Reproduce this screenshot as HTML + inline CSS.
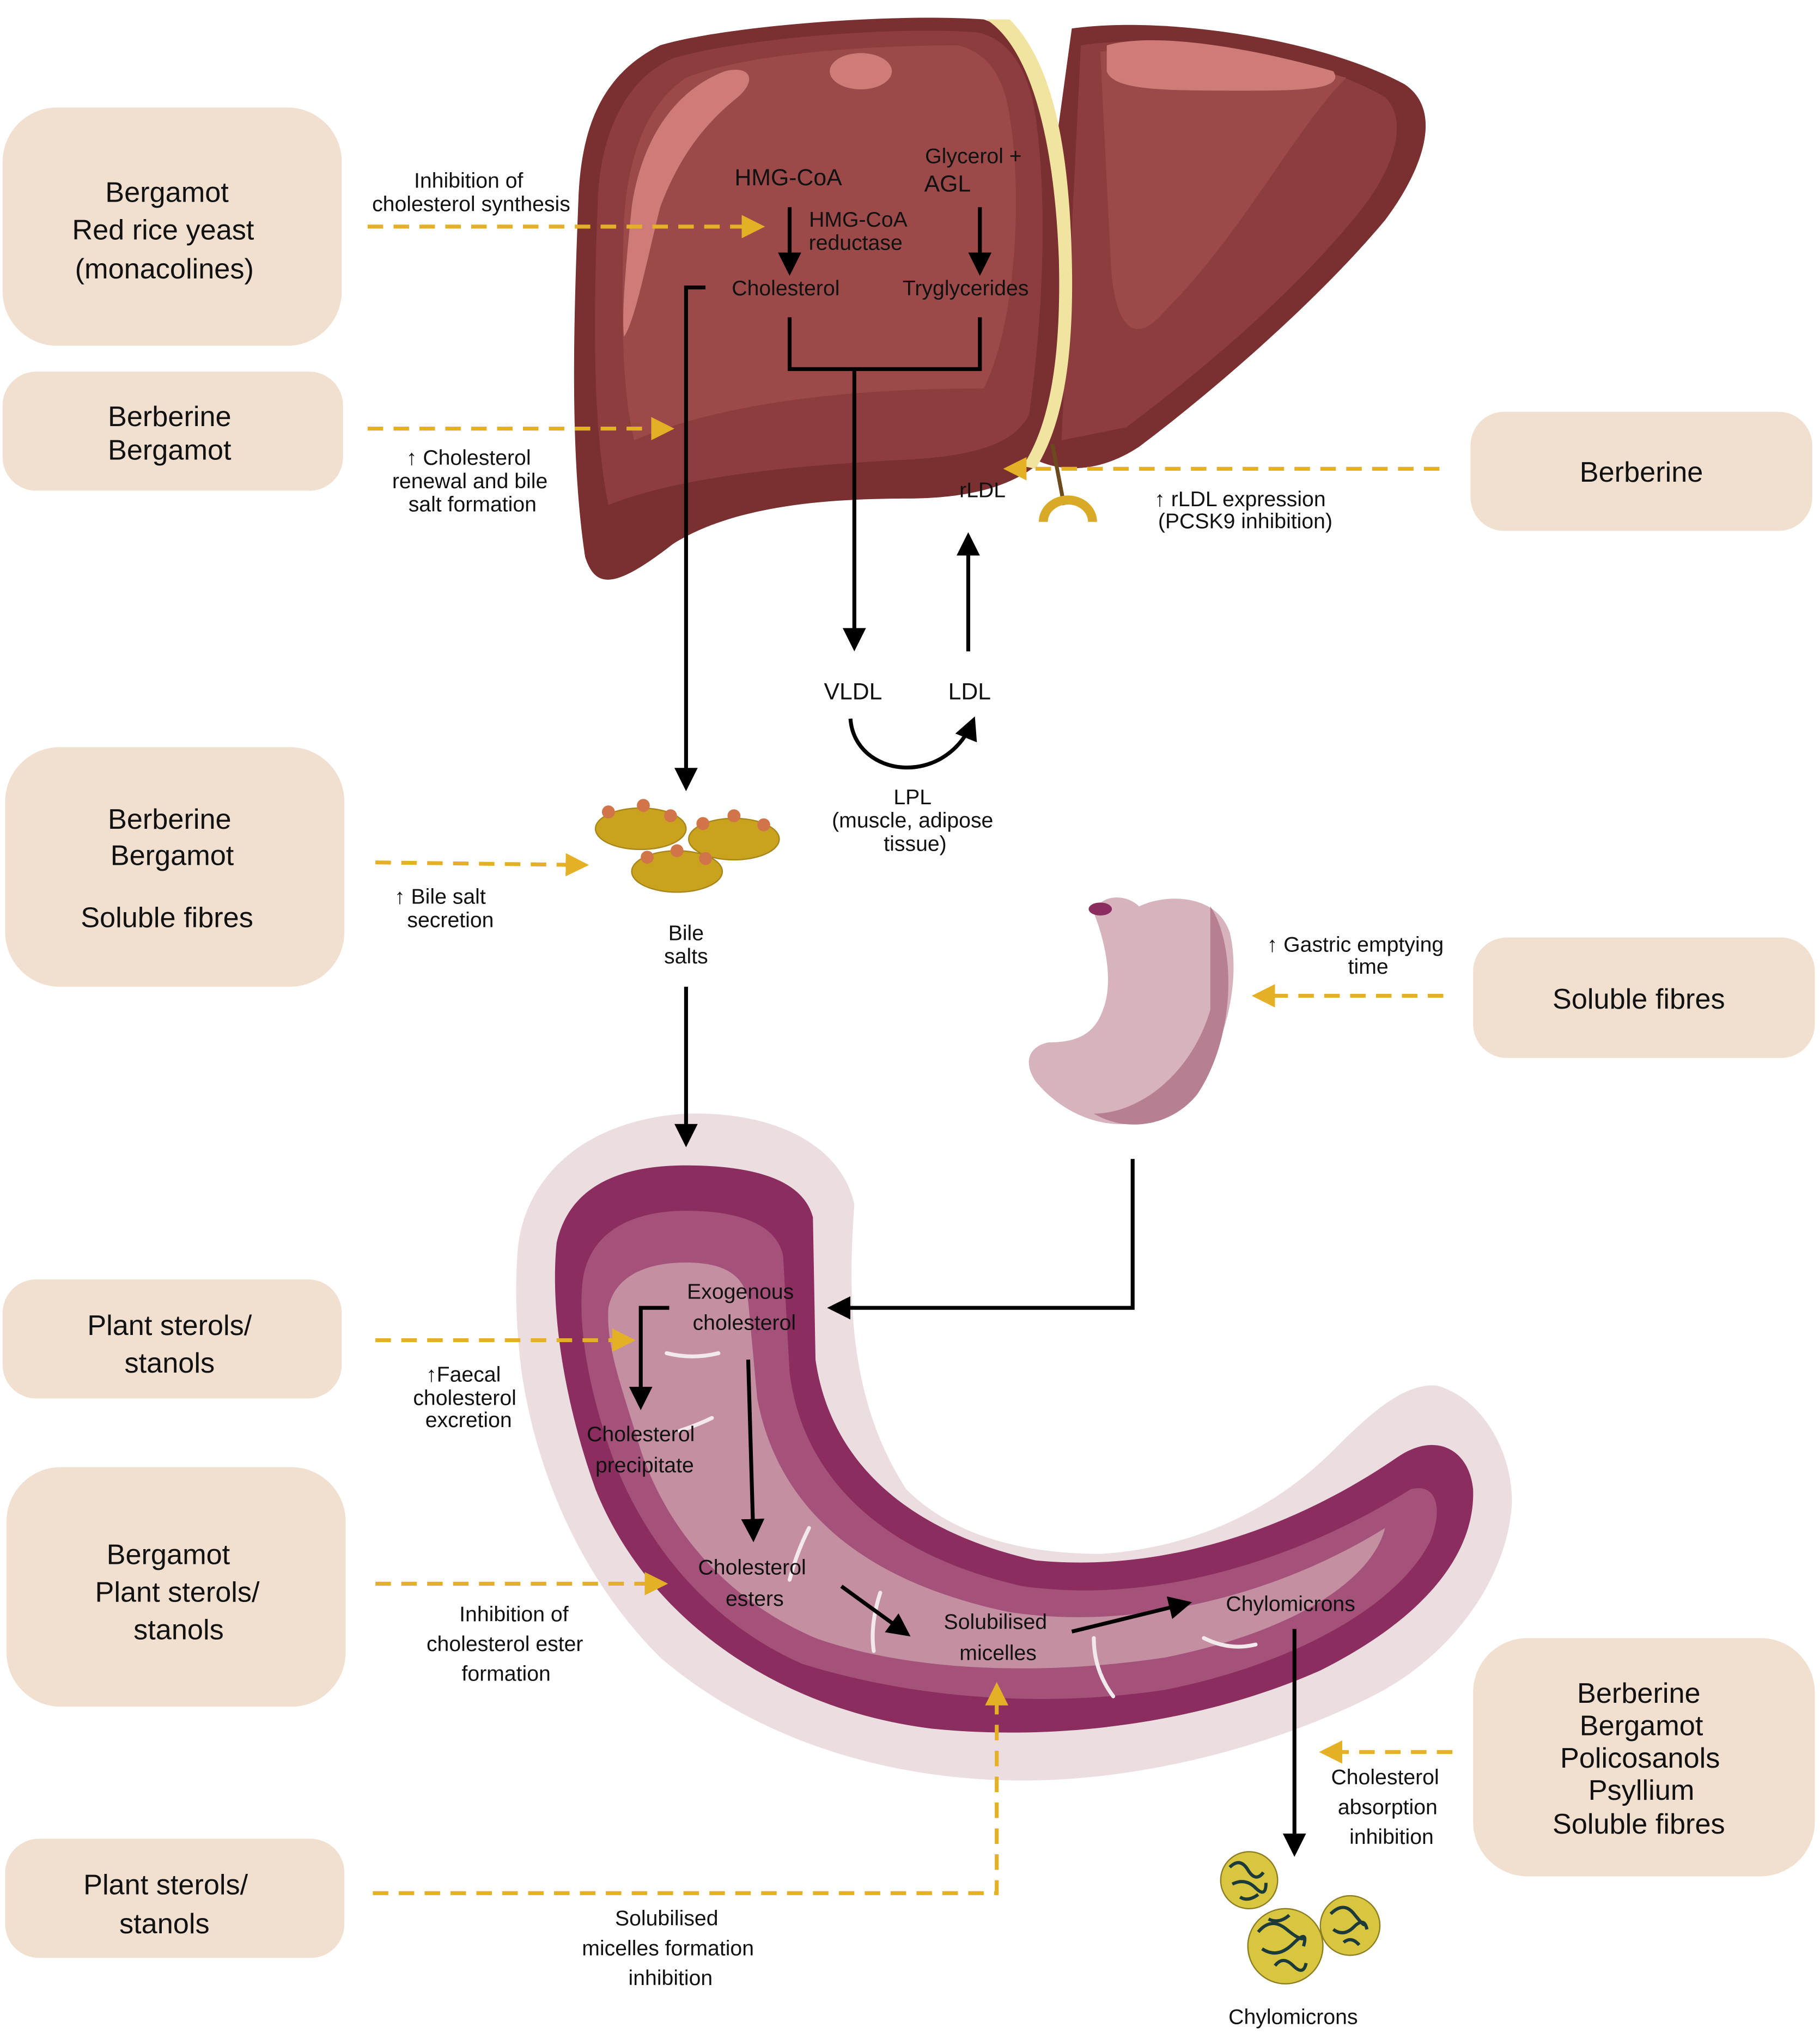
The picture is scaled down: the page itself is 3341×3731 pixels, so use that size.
<!DOCTYPE html>
<html><head><meta charset="utf-8"><style>
html,body{margin:0;padding:0;background:#fff;}
svg{display:block;}
text{font-family:"Liberation Sans",sans-serif;fill:#111;}
.b{font-size:22px;text-anchor:middle;}
.s{font-size:16.5px;text-anchor:middle;}
</style></head><body>
<svg width="3341" height="3731" viewBox="0 0 1406 1570" preserveAspectRatio="none" xmlns="http://www.w3.org/2000/svg">
<defs>
<marker id="ak" markerWidth="6" markerHeight="6" refX="5" refY="3" orient="auto" markerUnits="strokeWidth"><path d="M0,0 L6,3 L0,6 z" fill="#000"/></marker>
<marker id="ay" markerWidth="6" markerHeight="6" refX="5" refY="3" orient="auto" markerUnits="strokeWidth"><path d="M0,0 L6,3 L0,6 z" fill="#e4b126"/></marker>
</defs>
<!-- liver -->
<path d="M828,22 C900,12 1020,30 1085,65 C1115,85 1100,130 1070,170 C1020,230 940,300 880,345 C850,365 820,365 800,355 L790,300 Z" fill="#7a2f30"/>
<path d="M835,35 C900,25 1010,40 1070,75 C1090,95 1075,135 1045,170 C995,230 930,285 870,330 L820,340 Z" fill="#8e3d3e"/>
<path d="M850,40 C900,30 980,45 1040,60 C1000,100 960,180 900,240 C875,270 860,250 858,200 Z" fill="#9b4a49"/>
<path d="M855,35 C890,25 960,35 1030,55 C1040,70 1000,70 960,70 C900,70 860,70 855,55 Z" fill="#cf7b77"/>
<path d="M760,15 C690,10 560,20 510,35 C470,55 450,90 447,150 C443,250 440,350 452,430 C460,455 475,455 520,420 C560,395 620,385 700,385 C750,385 780,375 800,360 C815,300 825,200 810,100 C805,60 790,25 760,15 Z" fill="#7a2f30"/>
<path d="M755,25 C690,20 570,30 520,45 C485,60 465,100 462,150 C458,250 458,330 470,390 C520,370 600,360 700,355 C760,352 785,340 795,320 C805,250 810,160 800,90 C795,55 780,30 755,25 Z" fill="#8e3d3e"/>
<path d="M740,35 C680,35 580,40 530,60 C500,80 485,120 482,170 C480,240 480,300 490,340 C560,310 660,300 760,300 C785,250 790,150 780,90 C775,55 760,40 740,35 Z" fill="#9b4a49"/>
<path d="M560,55 C520,70 495,110 488,160 C484,200 480,240 482,260 C490,250 500,200 510,160 C525,120 545,95 570,75 C585,62 580,50 560,55 Z" fill="#cf7b77"/>
<ellipse cx="665" cy="55" rx="24" ry="14" fill="#cf7b77"/>
<path d="M762,15 C800,40 815,120 818,200 C820,280 810,330 790,360 L800,362 C820,330 830,280 828,200 C826,120 815,50 780,15 Z" fill="#f1e3a0"/>
<!-- receptor -->
<line x1="813" y1="343" x2="822" y2="390" stroke="#6b4a1e" stroke-width="3"/>
<path d="M806,403 A18,16 0 0 1 844,403" fill="none" stroke="#d9a928" stroke-width="7"/>
<!-- intestine -->
<path d="M400,965 C405,910 450,865 530,860 C600,858 650,885 660,930 C655,1000 655,1080 700,1150 C740,1190 800,1200 850,1200 C930,1195 990,1160 1030,1120 C1060,1090 1085,1068 1110,1070 C1145,1080 1168,1120 1168,1160 C1165,1220 1120,1280 1060,1310 C980,1350 880,1375 790,1375 C680,1375 580,1340 510,1280 C450,1220 415,1140 403,1060 C398,1020 398,990 400,965 Z" fill="#ecdde0"/>
<path d="M430,960 C440,915 480,900 530,900 C580,900 620,910 628,940 L630,1050 C640,1120 690,1180 800,1205 C900,1215 1000,1180 1080,1125 C1110,1105 1135,1120 1138,1150 C1140,1200 1100,1250 1020,1290 C930,1330 820,1345 720,1335 C600,1320 500,1250 460,1150 C435,1080 425,1010 430,960 Z" fill="#8b2d5f"/>
<path d="M450,990 C455,950 490,935 530,935 C570,935 600,945 605,970 L610,1060 C620,1140 680,1200 790,1225 C900,1240 1010,1200 1090,1150 C1110,1145 1115,1165 1105,1190 C1080,1240 1000,1285 900,1305 C800,1320 700,1310 620,1285 C540,1250 490,1180 468,1110 C452,1060 447,1020 450,990 Z" fill="#a5527a"/>
<path d="M470,1010 C475,985 500,975 530,975 C560,975 575,985 578,1005 L585,1080 C600,1160 660,1220 780,1245 C880,1260 990,1230 1070,1180 C1060,1220 1000,1260 900,1280 C800,1295 700,1290 630,1265 C560,1235 515,1180 495,1120 C480,1070 468,1040 470,1010 Z" fill="#c48fa0"/>
<g fill="none" stroke="#f3e8ec" stroke-width="3" stroke-linecap="round">
<path d="M515,1045 q20,5 40,0"/><path d="M625,1180 q-10,20 -15,40"/><path d="M680,1230 q-8,25 -5,45"/><path d="M845,1265 q0,25 15,45"/><path d="M930,1265 q20,10 40,5"/><path d="M525,1105 q15,-5 25,-10"/></g>
<!-- stomach -->
<path d="M845,705 C850,690 870,690 880,700 C900,690 940,690 950,720 C960,760 945,830 900,860 C860,880 820,860 800,835 C790,820 795,808 810,805 C830,805 845,800 852,780 C860,760 855,730 845,705 Z" fill="#d6b3bd"/>
<path d="M935,700 C955,730 955,800 925,845 C905,870 870,875 845,860 C880,860 920,830 935,780 Z" fill="#b67f92"/>
<ellipse cx="850" cy="702" rx="9" ry="5" fill="#8b2d5f"/>
<!-- bile salts -->
<g fill="#c9a21e" stroke="#a8851a" stroke-width="1">
<ellipse cx="495" cy="640" rx="35" ry="16"/><ellipse cx="567" cy="648" rx="35" ry="16"/><ellipse cx="523" cy="673" rx="35" ry="16"/></g>
<g fill="#d2744a"><circle cx="470" cy="627" r="5"/><circle cx="497" cy="622" r="5"/><circle cx="518" cy="630" r="5"/><circle cx="543" cy="636" r="5"/><circle cx="567" cy="630" r="5"/><circle cx="590" cy="637" r="5"/><circle cx="500" cy="662" r="5"/><circle cx="523" cy="657" r="5"/><circle cx="545" cy="663" r="5"/></g>
<!-- chylomicrons -->
<g fill="#d8c640" stroke="#8c7d20" stroke-width="1"><circle cx="965" cy="1452" r="22"/><circle cx="1043" cy="1487" r="23"/><circle cx="993" cy="1503" r="29"/></g>
<g fill="none" stroke="#1d3a3a" stroke-width="2.5"><path d="M950,1442 q8,-8 14,2 t12,2 M952,1455 q10,-5 18,3 t8,-4 M958,1465 q6,4 14,-2"/><path d="M1028,1478 q10,-10 18,0 t8,8 M1030,1490 q8,6 16,-2 t10,2 M1038,1500 q6,-5 12,2"/><path d="M972,1492 q10,-12 22,-2 t14,6 M975,1505 q12,8 24,-4 t8,2 M985,1518 q6,-8 14,0 t10,-2 M980,1482 q8,4 16,-3"/></g>
<!-- boxes -->
<g fill="#f1e0cf">
<rect x="2" y="83" width="262" height="184" rx="42"/>
<rect x="2" y="287" width="263" height="92" rx="26"/>
<rect x="4" y="577" width="262" height="185" rx="42"/>
<rect x="2" y="988" width="262" height="92" rx="26"/>
<rect x="5" y="1133" width="262" height="185" rx="42"/>
<rect x="4" y="1420" width="262" height="92" rx="26"/>
<rect x="1136" y="318" width="264" height="92" rx="26"/>
<rect x="1138" y="724" width="264" height="93" rx="26"/>
<rect x="1138" y="1265" width="264" height="184" rx="42"/>
</g>
<g class="b">
<text x="129" y="156" class="b">Bergamot</text><text x="126" y="185" class="b">Red rice yeast</text><text x="127" y="215" class="b">(monacolines)</text>
<text x="131" y="329" class="b">Berberine</text><text x="131" y="355" class="b">Bergamot</text>
<text x="131" y="640" class="b">Berberine</text><text x="133" y="668" class="b">Bergamot</text><text x="129" y="716" class="b">Soluble fibres</text>
<text x="131" y="1031" class="b">Plant sterols/</text><text x="131" y="1060" class="b">stanols</text>
<text x="130" y="1208" class="b">Bergamot</text><text x="137" y="1237" class="b">Plant sterols/</text><text x="138" y="1266" class="b">stanols</text>
<text x="128" y="1463" class="b">Plant sterols/</text><text x="127" y="1493" class="b">stanols</text>
<text x="1268" y="372" class="b">Berberine</text>
<text x="1266" y="779" class="b">Soluble fibres</text>
<text x="1266" y="1315" class="b">Berberine</text><text x="1268" y="1340" class="b">Bergamot</text><text x="1267" y="1365" class="b">Policosanols</text><text x="1268" y="1390" class="b">Psyllium</text><text x="1266" y="1416" class="b">Soluble fibres</text>
</g>
<!-- dashed yellow -->
<g fill="none" stroke="#e4b126" stroke-width="3" stroke-dasharray="12 8" marker-end="url(#ay)">
<line x1="284" y1="175" x2="588" y2="175"/>
<line x1="284" y1="331" x2="518" y2="331"/>
<line x1="290" y1="666" x2="452" y2="668"/>
<line x1="1112" y1="362" x2="778" y2="362"/>
<line x1="1115" y1="769" x2="970" y2="769"/>
<line x1="290" y1="1035" x2="488" y2="1035"/>
<line x1="290" y1="1223" x2="513" y2="1223"/>
<path d="M288,1462 L770,1462 L770,1302"/>
<line x1="1122" y1="1353" x2="1022" y2="1353"/>
</g>
<!-- black arrows -->
<g fill="none" stroke="#000" stroke-width="3" marker-end="url(#ak)">
<line x1="610" y1="160" x2="610" y2="210"/>
<line x1="757" y1="160" x2="757" y2="210"/>
<line x1="660" y1="285" x2="660" y2="500"/>
<line x1="748" y1="503" x2="748" y2="414"/>
<path d="M657,555 C660,600 730,610 752,556"/>
<path d="M545,222 L530,222 L530,608"/>
<line x1="530" y1="762" x2="530" y2="883"/>
<path d="M875,895 L875,1010 L642,1010"/>
<path d="M517,1010 L495,1010 L495,1086"/>
<line x1="578" y1="1050" x2="582" y2="1188"/>
<line x1="650" y1="1225" x2="701" y2="1262"/>
<line x1="828" y1="1260" x2="918" y2="1238"/>
<line x1="1000" y1="1258" x2="1000" y2="1431"/>
</g>
<path d="M610,245 L610,285 L757,285 L757,245" fill="none" stroke="#000" stroke-width="3"/>
<!-- labels -->
<g class="s">
<text x="362" y="145" class="s">Inhibition of</text><text x="364" y="163" class="s">cholesterol synthesis</text>
<text x="609" y="143" class="s" style="font-size:18px">HMG-CoA</text>
<text x="752" y="126" class="s">Glycerol  +</text><text x="732" y="148" class="s" style="font-size:18px">AGL</text>
<text x="663" y="175" class="s">HMG-CoA</text><text x="661" y="193" class="s">reductase</text>
<text x="607" y="228" class="s">Cholesterol</text><text x="746" y="228" class="s">Tryglycerides</text>
<text x="362" y="359" class="s">↑  Cholesterol</text><text x="363" y="377" class="s">renewal and bile</text><text x="365" y="395" class="s">salt formation</text>
<text x="759" y="384" class="s">rLDL</text>
<text x="958" y="391" class="s">↑ rLDL expression</text><text x="962" y="408" class="s">(PCSK9 inhibition)</text>
<text x="659" y="540" class="s" style="font-size:18px">VLDL</text><text x="749" y="540" class="s" style="font-size:18px">LDL</text>
<text x="705" y="621" class="s">LPL</text><text x="705" y="639" class="s">(muscle, adipose</text><text x="707" y="657" class="s">tissue)</text>
<text x="340" y="698" class="s">↑  Bile salt</text><text x="348" y="716" class="s">secretion</text>
<text x="530" y="726" class="s">Bile</text><text x="530" y="744" class="s">salts</text>
<text x="1047" y="735" class="s">↑  Gastric emptying</text><text x="1057" y="752" class="s">time</text>
<text x="572" y="1003" class="s">Exogenous</text><text x="575" y="1027" class="s">cholesterol</text>
<text x="358" y="1067" class="s">↑Faecal</text><text x="359" y="1085" class="s">cholesterol</text><text x="362" y="1102" class="s">excretion</text>
<text x="495" y="1113" class="s">Cholesterol</text><text x="498" y="1137" class="s">precipitate</text>
<text x="581" y="1216" class="s">Cholesterol</text><text x="583" y="1240" class="s">esters</text>
<text x="769" y="1258" class="s">Solubilised</text><text x="771" y="1282" class="s">micelles</text>
<text x="997" y="1244" class="s">Chylomicrons</text>
<text x="397" y="1252" class="s">Inhibition of</text><text x="390" y="1275" class="s">cholesterol ester</text><text x="391" y="1298" class="s">formation</text>
<text x="1070" y="1378" class="s">Cholesterol</text><text x="1072" y="1401" class="s">absorption</text><text x="1075" y="1424" class="s">inhibition</text>
<text x="515" y="1487" class="s">Solubilised</text><text x="516" y="1510" class="s">micelles formation</text><text x="518" y="1533" class="s">inhibition</text>
<text x="999" y="1563" class="s">Chylomicrons</text>
</g>
</svg>
</body></html>
